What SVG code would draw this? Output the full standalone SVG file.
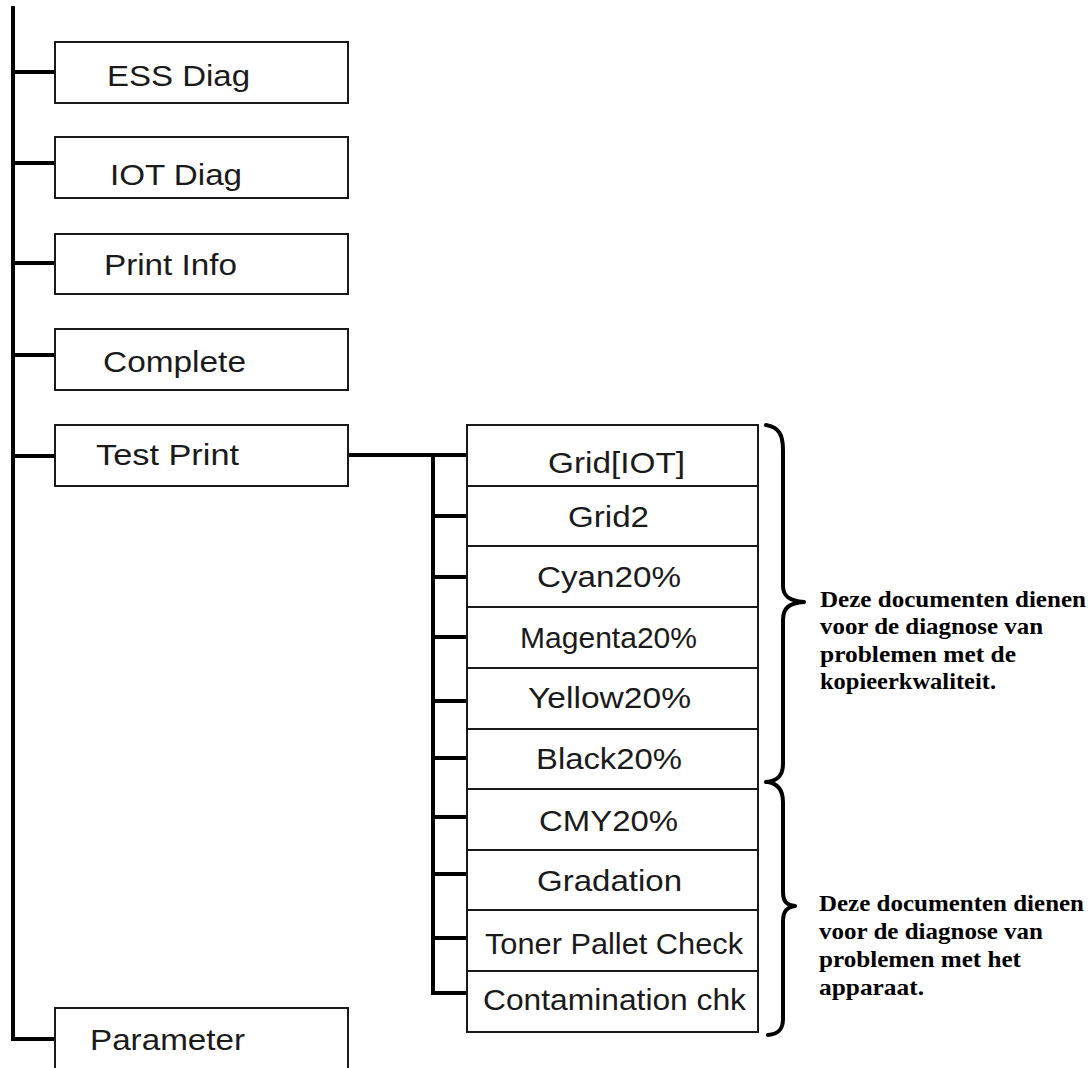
<svg xmlns="http://www.w3.org/2000/svg" width="1091" height="1068" viewBox="0 0 1091 1068">
<style>
.box{fill:#fff;stroke:#1a1a1a;stroke-width:2}
.lbl{font-family:"Liberation Sans",Arial,sans-serif;font-size:30px;fill:#1a1a1a}
.mid{text-anchor:middle}
.wire{fill:none;stroke:#000;stroke-width:4;stroke-linecap:square}
.brace{fill:none;stroke:#000;stroke-width:4;stroke-linecap:round;stroke-linejoin:round}
.note{font-family:"Liberation Serif","Times New Roman",serif;font-weight:bold;font-size:23px;fill:#000}
</style>
<rect width="1091" height="1068" fill="#fff"/>
<g id="connectors">
<path class="wire" d="M13,8 V1039 H55"/>
<path class="wire" d="M13,72 H55 M13,163 H55 M13,263 H55 M13,355 H55 M13,456 H55"/>
<path class="wire" d="M348,455 H467"/>
<path class="wire" d="M433,457 V993 H467"/>
<path class="wire" d="M433,516 H467 M433,577 H467 M433,637 H467 M433,701 H467 M433,758 H467 M433,817 H467 M433,874 H467 M433,938 H467"/>
</g>
<g id="ess-diag"><rect class="box" x="55" y="42" width="293" height="61"/><text class="lbl" x="107" y="86" textLength="143" lengthAdjust="spacingAndGlyphs">ESS Diag</text></g>
<g id="iot-diag"><rect class="box" x="55" y="137" width="293" height="61"/><text class="lbl" x="110" y="185" textLength="132" lengthAdjust="spacingAndGlyphs">IOT Diag</text></g>
<g id="print-info"><rect class="box" x="55" y="234" width="293" height="60"/><text class="lbl" x="104" y="275" textLength="133" lengthAdjust="spacingAndGlyphs">Print Info</text></g>
<g id="complete"><rect class="box" x="55" y="329" width="293" height="61"/><text class="lbl" x="103" y="372" textLength="143" lengthAdjust="spacingAndGlyphs">Complete</text></g>
<g id="test-print"><rect class="box" x="55" y="425" width="293" height="61"/><text class="lbl" x="96" y="465" textLength="143" lengthAdjust="spacingAndGlyphs">Test Print</text></g>
<g id="parameter"><rect class="box" x="55" y="1008" width="293" height="70"/><text class="lbl" x="90" y="1050" textLength="155" lengthAdjust="spacingAndGlyphs">Parameter</text></g>
<g id="grid-iot"><rect class="box" x="467" y="425" width="291" height="61"/><text class="lbl" x="548" y="473" textLength="137" lengthAdjust="spacingAndGlyphs">Grid[IOT]</text></g>
<g id="grid2"><rect class="box" x="467" y="486" width="291" height="60"/><text class="lbl" x="568" y="527" textLength="81" lengthAdjust="spacingAndGlyphs">Grid2</text></g>
<g id="cyan20"><rect class="box" x="467" y="546" width="291" height="61"/><text class="lbl" x="537" y="587" textLength="144" lengthAdjust="spacingAndGlyphs">Cyan20%</text></g>
<g id="magenta20"><rect class="box" x="467" y="607" width="291" height="61"/><text class="lbl" x="520" y="648" textLength="177" lengthAdjust="spacingAndGlyphs">Magenta20%</text></g>
<g id="yellow20"><rect class="box" x="467" y="668" width="291" height="61"/><text class="lbl" x="528" y="708" textLength="163" lengthAdjust="spacingAndGlyphs">Yellow20%</text></g>
<g id="black20"><rect class="box" x="467" y="729" width="291" height="60"/><text class="lbl" x="536" y="769" textLength="146" lengthAdjust="spacingAndGlyphs">Black20%</text></g>
<g id="cmy20"><rect class="box" x="467" y="789" width="291" height="61"/><text class="lbl" x="539" y="831" textLength="139" lengthAdjust="spacingAndGlyphs">CMY20%</text></g>
<g id="gradation"><rect class="box" x="467" y="850" width="291" height="60"/><text class="lbl" x="537" y="891" textLength="145" lengthAdjust="spacingAndGlyphs">Gradation</text></g>
<g id="toner-pallet-check"><rect class="box" x="467" y="910" width="291" height="61"/><text class="lbl" x="485" y="954" textLength="258" lengthAdjust="spacingAndGlyphs">Toner Pallet Check</text></g>
<g id="contamination-chk"><rect class="box" x="467" y="971" width="291" height="61"/><text class="lbl" x="483" y="1010" textLength="263" lengthAdjust="spacingAndGlyphs">Contamination chk</text></g>
<g id="brace-quality">
<path class="brace" d="M766,425 C779,427 783,435 783,450 L783,586 C783,596 789,601 804,602 C789,603 783,608 783,620 L783,764 C783,775 778,781 766,782"/>
<text class="note" x="820" y="607" textLength="266" lengthAdjust="spacingAndGlyphs">Deze documenten dienen</text>
<text class="note" x="820" y="634" textLength="223" lengthAdjust="spacingAndGlyphs">voor de diagnose van</text>
<text class="note" x="820" y="662" textLength="196" lengthAdjust="spacingAndGlyphs">problemen met de</text>
<text class="note" x="820" y="689" textLength="176" lengthAdjust="spacingAndGlyphs">kopieerkwaliteit.</text>
</g>
<g id="brace-device">
<path class="brace" d="M768,782 C779,784 783,791 783,802 L783,892 C783,902 787,905 795,906 C787,907 783,911 783,921 L783,1019 C783,1029 779,1034 768,1035"/>
<text class="note" x="819" y="911" textLength="265" lengthAdjust="spacingAndGlyphs">Deze documenten dienen</text>
<text class="note" x="819" y="939" textLength="224" lengthAdjust="spacingAndGlyphs">voor de diagnose van</text>
<text class="note" x="819" y="967" textLength="202" lengthAdjust="spacingAndGlyphs">problemen met het</text>
<text class="note" x="819" y="995" textLength="105" lengthAdjust="spacingAndGlyphs">apparaat.</text>
</g>
</svg>
